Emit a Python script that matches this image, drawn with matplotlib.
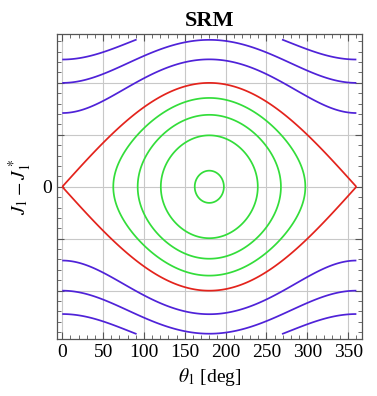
import matplotlib
matplotlib.use("Agg")
import matplotlib.pyplot as plt
import numpy as np

# Phase portrait of the SRM (pendulum-like) Hamiltonian H = J^2/2 + cos(theta)
# Curves given by the J values
libration_j_at_180 = [0.31, 0.99, 1.385, 1.71]   # green closed orbits (J at theta=180)
separatrix_j_at_180 = [2.0]                        # red
rotation_j_at_0 = [1.42, 2.0, 2.45]                # purple open orbits (J at theta=0)

x_ticks = [0, 50, 100, 150, 200, 250, 300, 350]
y_ticks = [-2, -1, 0, 1, 2]
y_tick_labels = ["", "", "0", "", ""]

theta_range = (0.0, 360.0)
j_range = (-2.835, 2.835)

plt.rcParams["font.family"] = ["Liberation Serif", "DejaVu Serif"]
plt.rcParams["mathtext.fontset"] = "stix"

fig = plt.figure(figsize=(3.77, 3.96), dpi=100)
ax = fig.add_axes([0.151, 0.144, 0.809, 0.770])

th = np.linspace(*theta_range, 721)
jj = np.linspace(*j_range, 601)
TH, JJ = np.meshgrid(th, jj)
H = JJ ** 2 / 2 + np.cos(np.radians(TH))

lib_levels = sorted(j ** 2 / 2 - 1 for j in libration_j_at_180)
sep_levels = [j ** 2 / 2 - 1 for j in separatrix_j_at_180]
rot_levels = sorted(j ** 2 / 2 + 1 for j in rotation_j_at_0)

lw = 1.25
ax.contour(TH, JJ, H, levels=lib_levels, colors="#33dd3a", linewidths=lw,
           linestyles="solid")
ax.contour(TH, JJ, H, levels=sep_levels, colors="#e3231c", linewidths=lw,
           linestyles="solid")
ax.contour(TH, JJ, H, levels=rot_levels, colors="#4f22d8", linewidths=lw,
           linestyles="solid")

ax.set_xlim(-6.5, 366.8)
ax.set_ylim(-2.93, 2.94)

ax.set_xticks(x_ticks)
ax.set_xticks(np.arange(0, 361, 10), minor=True)
ax.set_yticks(y_ticks)
ax.set_yticklabels(y_tick_labels)
ax.set_yticks(np.arange(-2.8, 2.81, 0.2), minor=True)

ax.tick_params(which="both", direction="in", top=True, right=True,
               color="#555555", labelsize=14)
ax.tick_params(which="major", length=5, width=0.8)
ax.tick_params(which="minor", length=2.8, width=0.6)

ax.grid(True, which="major", color="#c8c8c8", linewidth=0.8)
ax.set_axisbelow(True)
for s in ax.spines.values():
    s.set_color("#555555")
    s.set_linewidth(0.9)

ax.set_title("SRM", fontsize=16, fontweight="bold", pad=6)
ax.set_xlabel(r"$\theta_1$ [deg]", fontsize=14, labelpad=4)
ax.set_ylabel(r"$J_1 - J_1^*$", fontsize=14, labelpad=6)

fig.savefig("out.png", dpi=100)
